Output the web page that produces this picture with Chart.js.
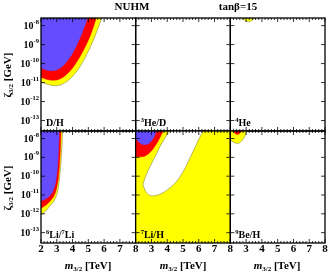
<!DOCTYPE html>
<html>
<head>
<meta charset="utf-8">
<script src="https://cdn.jsdelivr.net/npm/chart.js@4.4.0/dist/chart.umd.min.js"></script>
<style>
body { margin: 0; background: #fff; }
#wrap { position: relative; width: 328px; height: 275px; overflow: hidden; font-family: "Liberation Serif", serif; font-weight: bold; }
#wrap canvas { position: absolute; left: 0; top: 0; }
.t { position: absolute; white-space: nowrap; transform: translate(-50%, -50%); font-size: 11px; line-height: 1; }
.t sub { font-size: 7px; vertical-align: -2px; }
.rot { transform: translate(-50%, -50%) rotate(-90deg); }
</style>
</head>
<body>
<div id="wrap">
  <canvas id="c0" width="328" height="275"></canvas>
  <canvas id="c1" width="328" height="275"></canvas>
  <canvas id="c2" width="328" height="275"></canvas>
  <canvas id="c3" width="328" height="275"></canvas>
  <canvas id="c4" width="328" height="275"></canvas>
  <canvas id="c5" width="328" height="275"></canvas>
  <div class="t" style="left:132px;top:6px">NUHM</div>
  <div class="t" style="left:238px;top:6px">tanβ=15</div>
  <div class="t rot" style="left:8px;top:75px">ζ<sub>3/2</sub> [GeV]</div>
  <div class="t rot" style="left:8px;top:188px">ζ<sub>3/2</sub> [GeV]</div>
  <div class="t" style="left:88px;top:266px"><i>m</i><sub>3/2</sub> [TeV]</div>
  <div class="t" style="left:183px;top:266px"><i>m</i><sub>3/2</sub> [TeV]</div>
  <div class="t" style="left:277px;top:266px"><i>m</i><sub>3/2</sub> [TeV]</div>
</div>
<script>
// axis ticks
var xTicks = [2, 3, 4, 5, 6, 7, 8];
var yTicks = [-8, -9, -10, -11, -12, -13];   // log10 of zeta_3/2 [GeV]

// boundaries: region above each curve is excluded (m3/2 in TeV, log10 zeta)
// D/H
var dhBlueM = [2.0, 2.3, 2.7, 3.1, 3.5, 3.9, 4.3, 4.65, 4.95];
var dhBlueXi = [-10.22, -10.33, -10.38, -10.29, -10.03, -9.59, -8.97, -8.29, -7.6];
var dhRedM = [2.0, 2.4, 2.8, 3.2, 3.6, 4.0, 4.4, 4.8, 5.2, 5.5];
var dhRedXi = [-10.72, -10.84, -10.88, -10.81, -10.59, -10.23, -9.73, -9.12, -8.36, -7.6];
var dhYelM = [2.0, 2.45, 2.9, 3.3, 3.7, 4.1, 4.5, 4.9, 5.3, 5.6, 5.85];
var dhYelXi = [-10.97, -11.1, -11.17, -11.1, -10.91, -10.58, -10.12, -9.52, -8.8, -8.17, -7.6];

// 4He
var heYelM = [2.75, 2.95, 3.15, 3.35, 3.55];
var heYelXi = [-7.6, -7.74, -7.79, -7.74, -7.6];

// 6Li/7Li
var li6BlueM = [2.0, 2.3, 2.6, 2.8, 2.95, 3.05, 3.1, 3.14, 3.16];
var li6BlueXi = [-11.32, -11.2, -11.0, -10.7, -10.2, -9.5, -8.8, -8.0, -7.58];
var li6RedM = [2.0, 2.3, 2.6, 2.85, 3.0, 3.1, 3.18, 3.23, 3.27];
var li6RedXi = [-11.7, -11.55, -11.3, -11.0, -10.6, -10.1, -9.3, -8.5, -7.58];
var li6YelM = [2.0, 2.3, 2.6, 2.9, 3.05, 3.15, 3.25, 3.32, 3.37];
var li6YelXi = [-12.05, -11.85, -11.55, -11.2, -10.8, -10.3, -9.4, -8.5, -7.58];

// 7Li/H
var li7BlueM = [2.0, 2.25, 2.5, 2.75, 3.0, 3.2, 3.32];
var li7BlueXi = [-8.0, -8.22, -8.32, -8.3, -8.12, -7.85, -7.58];
var li7RedM = [2.0, 2.4, 2.8, 3.1, 3.4, 3.6, 3.76];
var li7RedXi = [-8.95, -8.97, -8.82, -8.55, -8.17, -7.85, -7.58];
var li7YelM = [2.0, 8.0];
var li7YelXi = [-13.55, -13.55];
// allowed (white) pocket: upper-left edge and lower-right edge
var li7HoleUpM = [2.46, 2.6, 2.8, 3.03, 3.3, 3.55, 3.85, 4.15];
var li7HoleUpXi = [-10.43, -10.08, -9.68, -9.29, -8.85, -8.41, -7.98, -7.58];
var li7HoleLoM = [2.46, 2.6, 2.75, 3.03, 3.4, 3.76, 4.2, 4.61, 5.05, 5.45, 5.8, 6.05, 6.3];
var li7HoleLoXi = [-10.43, -10.75, -10.93, -11.05, -11.0, -10.87, -10.6, -10.26, -9.7, -9.02, -8.4, -7.95, -7.58];

// 9Be/H
var beRedM = [2.15, 2.3, 2.45, 2.6, 2.75];
var beRedXi = [-7.58, -7.73, -7.78, -7.72, -7.58];
var beYelM = [2.0, 2.2, 2.45, 2.7, 2.9, 3.05];
var beYelXi = [-8.06, -8.2, -8.26, -8.15, -7.9, -7.58];

var BLUE = '#664cff', RED = '#ff0000', YEL = '#ffff00', EDGE = '#9a9a50';
var W = 328, H = 275;
var left = 41, right = 325;
var colW = (right - left) / 3;
var rowTop = [18, 131], rowBot = [131, 243];
var yMinExp = -13.55, yMaxExp = -7.6;

function pts(m, xi) {
  return m.map(function (v, i) { return { x: v, y: Math.pow(10, xi[i]) }; });
}

function region(m, xi, color, edge) {
  return {
    data: pts(m, xi),
    fill: 'end',
    backgroundColor: color,
    borderColor: edge || color,
    borderWidth: edge ? 0.7 : 0.5,
    pointRadius: 0,
    cubicInterpolationMode: 'monotone'
  };
}

function rich(ctx, parts, x, y, size, align) {
  var i, w = 0;
  for (i = 0; i < parts.length; i++) {
    ctx.font = 'bold ' + (parts[i][1] ? size * 0.65 : size) + 'px "Liberation Serif"';
    w += ctx.measureText(parts[i][0]).width;
  }
  if (align === 'right') x -= w;
  for (i = 0; i < parts.length; i++) {
    var sup = parts[i][1];
    ctx.font = 'bold ' + (sup ? size * 0.65 : size) + 'px "Liberation Serif"';
    ctx.fillText(parts[i][0], x, sup ? y - size * 0.42 : y);
    x += ctx.measureText(parts[i][0]).width;
  }
}

var framePlugin = {
  id: 'frame',
  afterDraw: function (chart, args, o) {
    var ctx = chart.ctx, a = chart.chartArea, xs = chart.scales.x, ys = chart.scales.y;
    ctx.save();
    ctx.strokeStyle = '#000';
    ctx.fillStyle = '#000';
    // x ticks, minor every 0.2 TeV
    ctx.lineWidth = 0.8;
    for (var v = 2; v <= 8.001; v += 0.2) {
      var px = xs.getPixelForValue(v);
      var len = Math.abs(v - Math.round(v)) < 0.01 ? 4 : 2;
      ctx.beginPath();
      ctx.moveTo(px, a.top); ctx.lineTo(px, a.top + len);
      ctx.moveTo(px, a.bottom); ctx.lineTo(px, a.bottom - len);
      ctx.stroke();
    }
    yTicks.forEach(function (k) {
      var py = ys.getPixelForValue(Math.pow(10, k));
      ctx.beginPath();
      ctx.moveTo(a.left, py); ctx.lineTo(a.left + 4, py);
      ctx.moveTo(a.right, py); ctx.lineTo(a.right - 4, py);
      ctx.stroke();
    });
    ctx.lineWidth = 1.3;
    ctx.strokeRect(a.left, a.top, a.right - a.left, a.bottom - a.top);

    ctx.textBaseline = 'middle';
    if (o.col === 0) {
      yTicks.forEach(function (k) {
        var py = ys.getPixelForValue(Math.pow(10, k));
        rich(ctx, [['10'], ['-' + Math.abs(k), 1]], a.left - 2, py + 0.5, 10, 'right');
      });
    }
    if (o.row === 1) {
      ctx.textAlign = 'center';
      ctx.font = 'bold 11px "Liberation Serif"';
      xTicks.forEach(function (t, i) {
        if (o.col > 0 && i === 0) return;
        ctx.fillText(String(t), xs.getPixelForValue(t), 249);
      });
      ctx.textAlign = 'left';
    }
    ctx.textBaseline = 'alphabetic';
    rich(ctx, o.label, a.left + 5, a.bottom - 5, 10);
    ctx.restore();
  }
};

var panels = [
  { row: 0, col: 0, label: [['D/H']], sets: [
    region(dhBlueM, dhBlueXi, BLUE),
    region(dhRedM, dhRedXi, RED),
    region(dhYelM, dhYelXi, YEL, EDGE)] },
  { row: 0, col: 1, label: [['3', 1], ['He/D']], sets: [] },
  { row: 0, col: 2, label: [['4', 1], ['He']], sets: [
    region(heYelM, heYelXi, YEL, EDGE)] },
  { row: 1, col: 0, label: [['6', 1], ['Li/'], ['7', 1], ['Li']], sets: [
    region(li6BlueM, li6BlueXi, BLUE),
    region(li6RedM, li6RedXi, RED),
    region(li6YelM, li6YelXi, YEL, EDGE)] },
  { row: 1, col: 1, label: [['7', 1], ['Li/H']], sets: [
    region(li7BlueM, li7BlueXi, BLUE),
    region(li7RedM, li7RedXi, RED),
    region(li7HoleUpM, li7HoleUpXi, YEL, EDGE),
    region(li7HoleLoM, li7HoleLoXi, '#ffffff', EDGE),
    region(li7YelM, li7YelXi, YEL)] },
  { row: 1, col: 2, label: [['9', 1], ['Be/H']], sets: [
    region(beRedM, beRedXi, RED),
    region(beYelM, beYelXi, YEL, EDGE)] }
];

panels.forEach(function (p, i) {
  var x0 = left + p.col * colW;
  new Chart(document.getElementById('c' + i), {
    type: 'line',
    data: { datasets: p.sets },
    options: {
      responsive: false,
      animation: false,
      layout: { padding: { left: x0, right: W - (x0 + colW), top: rowTop[p.row], bottom: H - rowBot[p.row] } },
      plugins: {
        legend: { display: false },
        tooltip: { enabled: false },
        frame: { row: p.row, col: p.col, label: p.label }
      },
      scales: {
        x: { type: 'linear', min: 2, max: 8, display: false },
        y: { type: 'logarithmic', min: Math.pow(10, yMinExp), max: Math.pow(10, yMaxExp), display: false }
      }
    },
    plugins: [framePlugin]
  });
});
</script>
</body>
</html>
